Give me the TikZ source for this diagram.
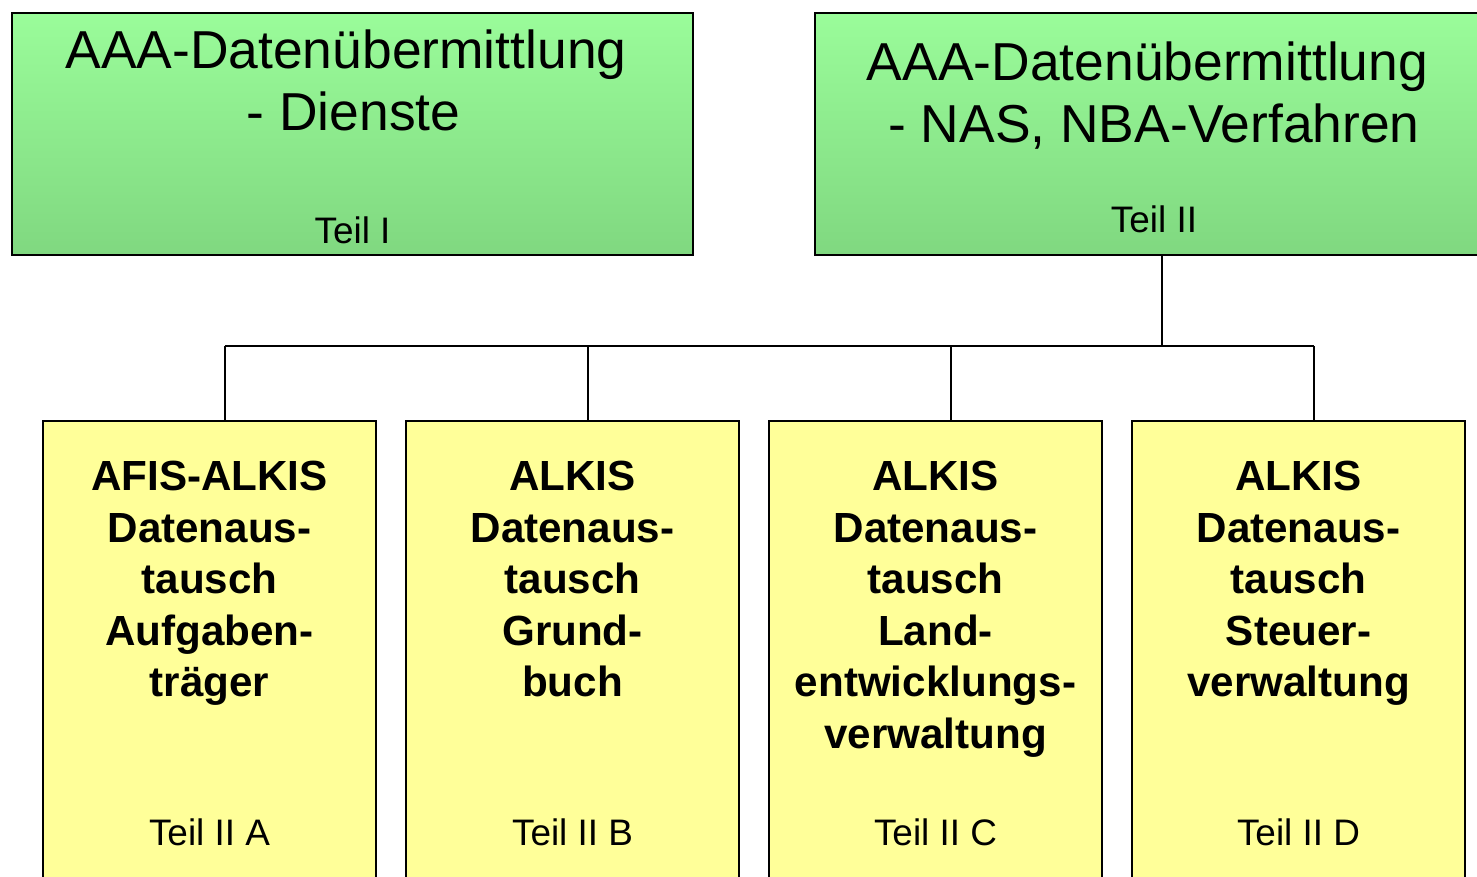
\documentclass[tikz,border=0pt]{standalone}
\usepackage{fontspec}
\setmainfont{Liberation Sans}
\definecolor{greentop}{HTML}{9AFC9A}
\definecolor{greenbot}{HTML}{80D880}
\definecolor{paleyellow}{HTML}{FFFF99}
\begin{document}
\begin{tikzpicture}[x=0.02cm,y=-0.02cm,
  greenbox/.style={draw,line width=1.1pt,top color=greentop,bottom color=greenbot,
    minimum height=4.84cm,inner sep=0pt,outer sep=0pt},
  yellowbox/.style={draw,line width=1.1pt,fill=paleyellow,minimum width=6.66cm,
    minimum height=9.58cm,inner sep=0pt,outer sep=0pt},
  title/.style={anchor=north,align=center,inner sep=0pt,font=\fontsize{30.4}{35.8}\selectfont},
  sub/.style={anchor=north,align=center,inner sep=0pt,font=\fontsize{24}{29.3}\selectfont\bfseries},
  teil/.style={anchor=base,inner sep=0pt,font=\fontsize{21}{25}\selectfont}]
\useasboundingbox (0,0) rectangle (1477,876);
\clip (0,0) rectangle (1477,876);
% top row
\node[greenbox,minimum width=13.62cm] (gI) at (352.5,134) {};
\node[greenbox,minimum width=13.5cm] (gII) at (1152.5,134) {};
\node[title] (tI) at (346,29) {AAA-Datenübermittlung\\\hspace*{0.3cm}- Dienste};
\node[title] (tII) at (1147.5,41) {AAA-Datenübermittlung\\\hspace*{0.26cm}- NAS, NBA-Verfahren};
\node[teil] (nI) at (352.5,243) {Teil I};
\node[teil] (nII) at (1154,232) {Teil II};
% bottom row
\node[yellowbox] (yA) at (209.5,660.5) {};
\node[yellowbox] (yB) at (572.5,660.5) {};
\node[yellowbox] (yC) at (935.5,660.5) {};
\node[yellowbox] (yD) at (1298.5,660.5) {};
\node[sub] (sA) at (209.5,461) {AFIS-ALKIS\\Datenaus-\\tausch\\Aufgaben-\\träger};
\node[sub] (sB) at (572.5,461) {ALKIS\\Datenaus-\\tausch\\Grund-\\buch};
\node[sub] (sC) at (935.5,461) {ALKIS\\Datenaus-\\tausch\\Land-\\entwicklungs-\\verwaltung};
\node[sub] (sD) at (1298.5,461) {ALKIS\\Datenaus-\\tausch\\Steuer-\\verwaltung};
\node[teil] (nA) at (209.5,845) {Teil II A};
\node[teil] (nB) at (572.5,845) {Teil II B};
\node[teil] (nC) at (935.5,845) {Teil II C};
\node[teil] (nD) at (1298.5,845) {Teil II D};
% connectors
\coordinate (bus) at (1162,346);
\draw[line width=0.8pt] (gII.south -| bus) -- (bus);
\draw[line width=0.8pt] ([xshift=0.31cm]yA.north |- bus) -- ([xshift=0.31cm]yD.north |- bus);
\foreach \n in {A,B,C,D}
  \draw[line width=0.8pt] ([xshift=0.31cm]y\n.north) -- ([xshift=0.31cm]y\n.north |- bus);
\end{tikzpicture}
\end{document}
